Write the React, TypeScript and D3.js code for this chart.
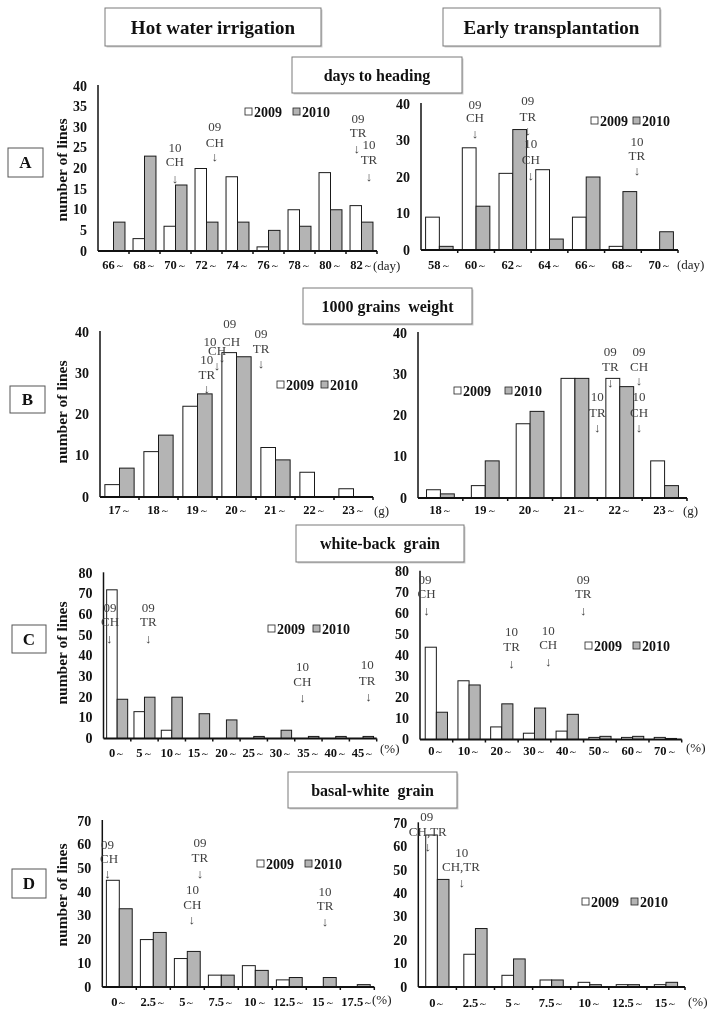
import React from "react";
import * as d3 from "d3";

const FONT = "'Liberation Serif','Times New Roman',Times,serif";
const W = "\uFF5E";

const HEADERS = ["Hot water irrigation", "Early transplantation"];
const SUBTITLES = ["days to heading", "1000 grains  weight", "white-back  grain", "basal-white  grain"];
const ROW_LETTERS = ["A", "B", "C", "D"];
const Y_LABEL = "number of lines";
const SERIES = ["2009", "2010"];

// A: days to heading
const A_L_CATS = ["66", "68", "70", "72", "74", "76", "78", "80", "82"];
const A_L_2009 = [0, 3, 6, 20, 18, 1, 10, 19, 11];
const A_L_2010 = [7, 23, 16, 7, 7, 5, 6, 10, 7];
const A_R_CATS = ["58", "60", "62", "64", "66", "68", "70"];
const A_R_2009 = [9, 28, 21, 22, 9, 1, 0];
const A_R_2010 = [1, 12, 33, 3, 20, 16, 5];
// B: 1000 grains weight
const B_L_CATS = ["17", "18", "19", "20", "21", "22", "23"];
const B_L_2009 = [3, 11, 22, 35, 12, 6, 2];
const B_L_2010 = [7, 15, 25, 34, 9, 0, 0];
const B_R_CATS = ["18", "19", "20", "21", "22", "23"];
const B_R_2009 = [2, 3, 18, 29, 29, 9];
const B_R_2010 = [1, 9, 21, 29, 27, 3];
// C: white-back grain
const C_L_CATS = ["0", "5", "10", "15", "20", "25", "30", "35", "40", "45"];
const C_L_2009 = [72, 13, 4, 0, 0, 0, 0, 0, 0, 0];
const C_L_2010 = [19, 20, 20, 12, 9, 1, 4, 1, 1, 1];
const C_R_CATS = ["0", "10", "20", "30", "40", "50", "60", "70"];
const C_R_2009 = [44, 28, 6, 3, 4, 1, 1, 1];
const C_R_2010 = [13, 26, 17, 15, 12, 1.5, 1.5, 0.5];
// D: basal-white grain
const D_L_CATS = ["0", "2.5", "5", "7.5", "10", "12.5", "15", "17.5"];
const D_L_2009 = [45, 20, 12, 5, 9, 3, 0, 0];
const D_L_2010 = [33, 23, 15, 5, 7, 4, 4, 1];
const D_R_CATS = ["0", "2.5", "5", "7.5", "10", "12.5", "15"];
const D_R_2009 = [65, 14, 5, 3, 2, 1, 1];
const D_R_2010 = [46, 25, 12, 3, 1, 1, 2];

// annotations: [text, category position, value]
const A_L_NOTES: [string, number, number][] = [
  ["10", 2.48, 25.0], ["CH", 2.48, 21.6], ["↓", 2.48, 17.5],
  ["09", 3.77, 30.1], ["CH", 3.77, 26.4], ["↓", 3.77, 22.8],
  ["09", 8.39, 32.2], ["TR", 8.39, 28.7], ["↓", 8.35, 24.9],
  ["10", 8.74, 25.7], ["TR", 8.74, 22.1], ["↓", 8.74, 18.0],
];
const A_R_NOTES: [string, number, number][] = [
  ["09", 1.47, 40], ["CH", 1.47, 36.4], ["↓", 1.47, 32],
  ["09", 2.91, 40.9], ["TR", 2.91, 36.7], ["↓", 2.91, 32.7],
  ["10", 2.99, 29.2], ["CH", 2.99, 24.9], ["↓", 2.99, 20.5],
  ["10", 5.88, 29.7], ["TR", 5.88, 25.8], ["↓", 5.88, 21.7],
];
const B_L_NOTES: [string, number, number][] = [
  ["09", 3.33, 42.1], ["CH", 3.36, 37.8], ["↓", 3.13, 33.9],
  ["10", 2.82, 37.6], ["CH", 3.0, 35.4], ["↓", 3.0, 31.8],
  ["10", 2.74, 33.4], ["TR", 2.74, 29.8], ["↓", 2.74, 26.4],
  ["09", 4.13, 39.7], ["TR", 4.13, 36.0], ["↓", 4.13, 32.4],
];
const B_R_NOTES: [string, number, number][] = [
  ["09", 4.29, 35.6], ["TR", 4.29, 32], ["↓", 4.29, 28.1],
  ["09", 4.93, 35.6], ["CH", 4.93, 32], ["↓", 4.93, 28.6],
  ["10", 4.0, 24.5], ["TR", 4.0, 20.8], ["↓", 4.0, 17.2],
  ["10", 4.93, 24.5], ["CH", 4.93, 20.8], ["↓", 4.93, 17.2],
];
const C_L_NOTES: [string, number, number][] = [
  ["09", 0.24, 63.5], ["CH", 0.24, 56.6], ["↓", 0.21, 48.5],
  ["09", 1.64, 63.5], ["TR", 1.64, 56.6], ["↓", 1.64, 48.5],
  ["10", 7.28, 34.8], ["CH", 7.28, 27.5], ["↓", 7.28, 19.8],
  ["10", 9.65, 35.6], ["TR", 9.65, 28.3], ["↓", 9.7, 20.2],
];
const C_R_NOTES: [string, number, number][] = [
  ["09", 0.15, 76.5], ["CH", 0.2, 69.7], ["↓", 0.2, 61.7],
  ["09", 4.99, 76.5], ["TR", 4.99, 69.7], ["↓", 4.99, 61.7],
  ["10", 2.8, 51.4], ["TR", 2.8, 44.2], ["↓", 2.8, 36.3],
  ["10", 3.92, 52.2], ["CH", 3.92, 45.1], ["↓", 3.92, 37.1],
];
const D_L_NOTES: [string, number, number][] = [
  ["09", 0.15, 60.2], ["CH", 0.2, 54.3], ["↓", 0.15, 47.7],
  ["09", 2.87, 61.0], ["TR", 2.87, 54.7], ["↓", 2.87, 48.0],
  ["10", 2.65, 41.2], ["CH", 2.65, 35.0], ["↓", 2.63, 28.3],
  ["10", 6.55, 40.2], ["TR", 6.55, 34.2], ["↓", 6.55, 27.5],
];
const D_R_NOTES: [string, number, number][] = [
  ["09", 0.22, 72.8], ["CH,TR", 0.25, 66.7], ["↓", 0.25, 60.0],
  ["10", 1.14, 57.6], ["CH,TR", 1.12, 51.4], ["↓", 1.14, 44.8],
];

type PanelCfg = {
  cats: string[]; a: number[]; b: number[]; notes: [string, number, number][];
  x0: number; x1: number; y0: number; yTop: number; yMax: number; yStep: number;
  barFrac: number; labelY: number; unit: string; unitX: number; unitY: number;
  legX: number; legY: number; legGap: number;
};

const PANELS: PanelCfg[] = [
  { cats: A_L_CATS, a: A_L_2009, b: A_L_2010, notes: A_L_NOTES, x0: 98, x1: 377, y0: 251, yTop: 86, yMax: 40, yStep: 5, barFrac: 0.74, labelY: 265, unit: "(day)", unitX: 373, unitY: 265, legX: 245, legY: 112, legGap: 48 },
  { cats: A_R_CATS, a: A_R_2009, b: A_R_2010, notes: A_R_NOTES, x0: 421, x1: 678, y0: 250, yTop: 104, yMax: 40, yStep: 10, barFrac: 0.75, labelY: 265, unit: "(day)", unitX: 677, unitY: 264, legX: 591, legY: 121, legGap: 42 },
  { cats: B_L_CATS, a: B_L_2009, b: B_L_2010, notes: B_L_NOTES, x0: 100, x1: 373, y0: 497, yTop: 332, yMax: 40, yStep: 10, barFrac: 0.75, labelY: 510, unit: "(g)", unitX: 374, unitY: 510, legX: 277, legY: 385, legGap: 44 },
  { cats: B_R_CATS, a: B_R_2009, b: B_R_2010, notes: B_R_NOTES, x0: 418, x1: 687, y0: 498, yTop: 333, yMax: 40, yStep: 10, barFrac: 0.62, labelY: 510, unit: "(g)", unitX: 683, unitY: 510, legX: 454, legY: 391, legGap: 51 },
  { cats: C_L_CATS, a: C_L_2009, b: C_L_2010, notes: C_L_NOTES, x0: 103.5, x1: 376.7, y0: 738.5, yTop: 573.3, yMax: 80, yStep: 10, barFrac: 0.77, labelY: 753, unit: "(%)", unitX: 380, unitY: 748, legX: 268, legY: 629, legGap: 45 },
  { cats: C_R_CATS, a: C_R_2009, b: C_R_2010, notes: C_R_NOTES, x0: 420, x1: 681.7, y0: 739.5, yTop: 571.7, yMax: 80, yStep: 10, barFrac: 0.68, labelY: 751, unit: "(%)", unitX: 686, unitY: 747, legX: 585, legY: 646, legGap: 48 },
  { cats: D_L_CATS, a: D_L_2009, b: D_L_2010, notes: D_L_NOTES, x0: 102.3, x1: 374.3, y0: 987, yTop: 821, yMax: 70, yStep: 10, barFrac: 0.76, labelY: 1002, unit: "(%)", unitX: 372, unitY: 999, legX: 257, legY: 864, legGap: 48 },
  { cats: D_R_CATS, a: D_R_2009, b: D_R_2010, notes: D_R_NOTES, x0: 418.3, x1: 685, y0: 987, yTop: 823.3, yMax: 70, yStep: 10, barFrac: 0.61, labelY: 1003, unit: "(%)", unitX: 688, unitY: 1001, legX: 582, legY: 902, legGap: 49 },
];

const HEADER_BOXES = [
  { x: 105, y: 8, w: 216, h: 38 },
  { x: 443, y: 8, w: 217, h: 38 },
];
const SUB_BOXES = [
  { x: 292, y: 57, w: 170, h: 36 },
  { x: 303, y: 288, w: 169, h: 36 },
  { x: 296, y: 525, w: 168, h: 37 },
  { x: 288, y: 772, w: 169, h: 36 },
];
const LETTER_BOXES = [
  { x: 8, y: 148, w: 35, h: 29 },
  { x: 10, y: 386, w: 35, h: 27 },
  { x: 12, y: 625, w: 34, h: 28 },
  { x: 12, y: 869, w: 34, h: 29 },
];
const YLABEL_Y = [170, 412, 653, 895];

const FILL_2010 = "#b4b4b4";

function Panel({ p }: { p: PanelCfg }) {
  const x = d3.scaleBand<string>().domain(p.cats).range([p.x0, p.x1]).padding(0);
  const po = 1 / p.barFrac - 1;
  const xs = d3.scaleBand<string>().domain(SERIES).range([0, x.bandwidth()]).paddingInner(0).paddingOuter(po);
  const y = d3.scaleLinear().domain([0, p.yMax]).range([p.y0, p.yTop]);
  const xc = d3.scaleLinear().domain([0, p.cats.length]).range([p.x0, p.x1]);
  const ticks = d3.range(0, p.yMax + 0.001, p.yStep);
  const bw = x.bandwidth();
  return (
    <g>
      {p.cats.map((c, i) => (
        <g key={c}>
          {p.a[i] > 0 && (
            <rect x={(x(c) as number) + (xs("2009") as number)} y={y(p.a[i])} width={xs.bandwidth()} height={p.y0 - y(p.a[i])} fill="#fff" stroke="#1a1a1a" strokeWidth={1} />
          )}
          {p.b[i] > 0 && (
            <rect x={(x(c) as number) + (xs("2010") as number)} y={y(p.b[i])} width={xs.bandwidth()} height={p.y0 - y(p.b[i])} fill={FILL_2010} stroke="#1a1a1a" strokeWidth={1} />
          )}
          <text x={(x(c) as number) + bw / 2} y={p.labelY} textAnchor="middle" dominantBaseline="central" fontFamily={FONT} fontWeight="bold" fontSize={12.5} fill="#111">
            {c}
            <tspan fontSize={10} fontWeight="normal">{W}</tspan>
          </text>
        </g>
      ))}
      <line x1={p.x0} x2={p.x0} y1={p.y0} y2={p.yTop - 1} stroke="#111" strokeWidth={1.5} />
      <line x1={p.x0} x2={p.x1} y1={p.y0} y2={p.y0} stroke="#111" strokeWidth={2} />
      {p.cats.map((c, i) => (
        <line key={"t" + c} x1={xc(i + 1)} x2={xc(i + 1)} y1={p.y0} y2={p.y0 + 3} stroke="#111" strokeWidth={1.5} />
      ))}
      {ticks.map((t) => (
        <text key={"y" + t} x={p.x0 - 11} y={y(t)} textAnchor="end" dominantBaseline="central" fontFamily={FONT} fontWeight="bold" fontSize={14} fill="#111">
          {t}
        </text>
      ))}
      <text x={p.unitX} y={p.unitY} dominantBaseline="central" fontFamily={FONT} fontSize={13} fill="#222">
        {p.unit}
      </text>
      <g>
        {p.notes.map(([t, c, v], i) => (
          <text key={"n" + i} x={xc(c)} y={y(v)} textAnchor="middle" dominantBaseline="central" fontFamily={FONT} fontSize={13} fill="#404040">
            {t}
          </text>
        ))}
      </g>
      <g>
        <rect x={p.legX} y={p.legY - 4} width={7} height={7} fill="#fff" stroke="#222" strokeWidth={0.8} />
        <text x={p.legX + 9} y={p.legY} dominantBaseline="central" fontFamily={FONT} fontWeight="bold" fontSize={14} fill="#111">{SERIES[0]}</text>
        <rect x={p.legX + p.legGap} y={p.legY - 4} width={7} height={7} fill={FILL_2010} stroke="#222" strokeWidth={0.8} />
        <text x={p.legX + p.legGap + 9} y={p.legY} dominantBaseline="central" fontFamily={FONT} fontWeight="bold" fontSize={14} fill="#111">{SERIES[1]}</text>
      </g>
    </g>
  );
}

export default function App() {
  return (
    <svg width={714} height={1019} style={{ position: "absolute", left: 0, top: 0, background: "#fff", filter: "grayscale(1)" }}>
      <rect x={0} y={0} width={714} height={1019} fill="#fff" />
      {HEADER_BOXES.map((b, i) => (
        <g key={"h" + i}>
          <rect x={b.x + 1.5} y={b.y + 1.5} width={b.w} height={b.h} fill="#cfcfcf" />
          <rect x={b.x} y={b.y} width={b.w} height={b.h} fill="#fff" stroke="#7a7a7a" strokeWidth={1} />
          <text x={b.x + b.w / 2} y={b.y + b.h / 2} textAnchor="middle" dominantBaseline="central" fontFamily={FONT} fontWeight="bold" fontSize={19} fill="#111">
            {HEADERS[i]}
          </text>
        </g>
      ))}
      {SUB_BOXES.map((b, i) => (
        <g key={"s" + i}>
          <rect x={b.x + 1.5} y={b.y + 1.5} width={b.w} height={b.h} fill="#cfcfcf" />
          <rect x={b.x} y={b.y} width={b.w} height={b.h} fill="#fff" stroke="#7a7a7a" strokeWidth={1} />
          <text x={b.x + b.w / 2} y={b.y + b.h / 2} textAnchor="middle" dominantBaseline="central" fontFamily={FONT} fontWeight="bold" fontSize={16} fill="#111" style={{ whiteSpace: "pre" }}>
            {SUBTITLES[i]}
          </text>
        </g>
      ))}
      {LETTER_BOXES.map((b, i) => (
        <g key={"l" + i}>
          <rect x={b.x} y={b.y} width={b.w} height={b.h} fill="#fff" stroke="#555" strokeWidth={1} />
          <text x={b.x + b.w / 2} y={b.y + b.h / 2} textAnchor="middle" dominantBaseline="central" fontFamily={FONT} fontWeight="bold" fontSize={17} fill="#111">
            {ROW_LETTERS[i]}
          </text>
          <text transform={`translate(61,${YLABEL_Y[i]}) rotate(-90)`} textAnchor="middle" dominantBaseline="central" fontFamily={FONT} fontWeight="bold" fontSize={15.5} fill="#111">
            {Y_LABEL}
          </text>
        </g>
      ))}
      {PANELS.map((p, i) => (
        <Panel key={i} p={p} />
      ))}
    </svg>
  );
}
